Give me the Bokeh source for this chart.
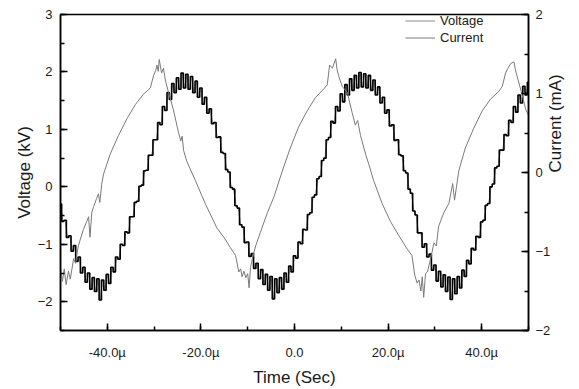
import math
import numpy as np
from bokeh.plotting import figure
from bokeh.models import (Range1d, LinearAxis, SingleIntervalTicker,
                          CustomJSTickFormatter, Legend, LegendItem)
from bokeh.embed import file_html
from bokeh.resources import INLINE

# ---- data ----
# voltage sampled every 0.5 us from -50 us to 50 us (kV)
voltage_kv = [
    -0.30, -0.60, -0.58, -0.88, -0.85, -1.12, -1.02, -1.30, -1.22, -1.50,
    -1.40, -1.66, -1.50, -1.78, -1.58, -1.82, -1.60, -1.97, -1.62, -1.80,
    -1.52, -1.68, -1.40, -1.48, -1.22, -1.26, -1.00, -1.02, -0.78, -0.80,
    -0.52, -0.52, -0.27, -0.25, 0.01, 0.03, 0.28, 0.29, 0.55, 0.55,
    0.82, 0.82, 1.12, 1.08, 1.40, 1.33, 1.64, 1.52, 1.80, 1.64,
    1.90, 1.70, 1.98, 1.72, 1.96, 1.70, 1.92, 1.64, 1.84, 1.56,
    1.72, 1.44, 1.56, 1.28, 1.36, 1.10, 1.12, 0.86, 0.87, 0.60,
    0.58, 0.30, 0.26, -0.01, -0.04, -0.33, -0.37, -0.66, -0.70, -0.97,
    -0.96, -1.21, -1.16, -1.42, -1.33, -1.60, -1.44, -1.70, -1.52, -1.80,
    -1.56, -1.95, -1.60, -1.84, -1.58, -1.78, -1.50, -1.66, -1.38, -1.48,
    -1.20, -1.24, -0.96, -0.99, -0.74, -0.75, -0.48, -0.45, -0.18, -0.14,
    0.14, 0.18, 0.46, 0.50, 0.82, 0.86, 1.14, 1.11, 1.40, 1.32,
    1.62, 1.48, 1.78, 1.60, 1.88, 1.68, 1.94, 1.72, 1.99, 1.74,
    1.97, 1.72, 1.94, 1.68, 1.86, 1.60, 1.74, 1.46, 1.56, 1.28,
    1.34, 1.06, 1.08, 0.81, 0.82, 0.56, 0.54, 0.28, 0.24, -0.04,
    -0.11, -0.42, -0.49, -0.80, -0.80, -1.05, -0.99, -1.22, -1.17, -1.45,
    -1.36, -1.64, -1.47, -1.74, -1.53, -1.82, -1.57, -1.96, -1.60, -1.86,
    -1.56, -1.76, -1.45, -1.56, -1.28, -1.34, -1.07, -1.10, -0.86, -0.88,
    -0.61, -0.58, -0.32, -0.29, 0.00, 0.05, 0.33, 0.36, 0.64, 0.64,
    0.91, 0.89, 1.16, 1.12, 1.40, 1.30, 1.60, 1.46, 1.75, 1.60,
    1.82,
]
t_volt_us = np.linspace(-50.0, 50.0, len(voltage_kv))

# current trace (us, mA)
t_cur_us = [
    -50.0, -49.6, -49.2, -48.8, -48.3, -47.9, -47.2, -46.8, -46.2, -45.1,
    -44.4, -44.0, -43.7, -43.3, -42.9, -42.3, -41.9, -41.6, -41.2, -40.8,
    -39.4, -37.6, -35.8, -34.0, -32.3, -30.8, -30.1, -29.6, -29.4, -29.1,
    -28.9, -28.4, -28.0, -27.6, -26.9, -25.9, -24.8, -24.3, -24.0, -23.7,
    -23.0, -21.2, -19.1, -16.6, -15.1, -13.7, -12.6, -11.9, -11.5, -11.2,
    -10.8, -10.4, -10.0, -9.7, -9.4, -9.0, -8.3, -7.3, -5.8, -4.4,
    -2.6, -0.9, 0.9, 2.7, 4.5, 6.3, 7.0, 7.5, 8.1, 8.8,
    9.1, 9.5, 10.2, 11.3, 12.3, 13.0, 13.5, 14.1, 15.2, 15.9,
    16.9, 18.7, 20.5, 22.3, 24.1, 25.1, 25.7, 26.2, 26.6, 27.0,
    27.3, 27.6, 28.0, 28.4, 29.1, 29.8, 30.3, 30.8, 31.9, 33.0,
    33.8, 34.2, 35.1, 36.5, 38.3, 40.1, 41.9, 43.7, 44.4, 45.1,
    45.6, 46.2, 46.9, 47.2, 47.6, 48.7, 49.4, 50.0,
]
current_ma = [
    -1.20, -1.38, -1.22, -1.42, -1.25, -1.35, -1.09, -1.15, -0.93, -0.72,
    -0.62, -0.56, -0.82, -0.50, -0.43, -0.33, -0.27, -0.38, -0.15, -0.02,
    0.23, 0.47, 0.68, 0.86, 0.99, 1.07, 1.23, 1.30, 1.36, 1.28,
    1.43, 1.26, 1.32, 1.17, 1.01, 0.80, 0.51, 0.40, 0.46, 0.28,
    0.14, -0.10, -0.39, -0.70, -0.82, -0.95, -1.05, -1.26, -1.22, -1.32,
    -1.25, -1.33, -1.28, -1.46, -1.20, -1.09, -0.93, -0.76, -0.51, -0.31,
    0.02, 0.31, 0.58, 0.78, 0.95, 1.06, 1.11, 1.36, 1.32, 1.44,
    1.30, 1.21, 1.09, 1.01, 0.76, 0.60, 0.66, 0.47, 0.23, 0.10,
    -0.10, -0.39, -0.62, -0.80, -0.97, -1.05, -1.30, -1.40, -1.36, -1.50,
    -1.32, -1.58, -1.28, -1.26, -1.09, -0.89, -0.93, -0.68, -0.51, -0.39,
    -0.14, -0.35, 0.02, 0.31, 0.56, 0.78, 0.93, 1.03, 1.09, 1.26,
    1.32, 1.38, 1.40, 1.30, 1.21, 0.97, 0.80, 0.72,
]

series_labels = ["Voltage", "Current"]
x_label = "Time (Sec)"
y_left_label = "Voltage (kV)"
y_right_label = "Current (mA)"

FONT = "Liberation Sans"
TXT = "#1a1a1a"

p = figure(width=579, height=389, output_backend="svg", toolbar_location=None,
           x_range=Range1d(-50, 50), y_range=Range1d(-2.5, 3),
           min_border_left=60, min_border_right=51,
           min_border_top=14, min_border_bottom=51)
p.extra_y_ranges = {"cur": Range1d(-2, 2)}
p.xgrid.visible = False
p.ygrid.visible = False
p.outline_line_color = "black"
p.outline_line_width = 1.5
p.background_fill_color = "white"
p.border_fill_color = "white"

# thin grey voltage stroke underneath (gives the grey fringe and the legend swatch)
lv = p.line(t_volt_us, voltage_kv, line_color="#8a8a8a", line_width=1)
rv = p.step(t_volt_us, voltage_kv, mode="center", line_color="black", line_width=1.6)
rc = p.line(t_cur_us, current_ma, y_range_name="cur", line_color="#7a7a7a", line_width=1)

p.xaxis.ticker = SingleIntervalTicker(interval=20, num_minor_ticks=2)
p.xaxis.formatter = CustomJSTickFormatter(
    code="return Math.abs(tick) < 1e-9 ? '0.0' : tick.toFixed(1) + 'µ';")
p.yaxis.ticker = SingleIntervalTicker(interval=1, num_minor_ticks=2)
p.xaxis.axis_label = x_label
p.yaxis.axis_label = y_left_label

ra = LinearAxis(y_range_name="cur",
                ticker=SingleIntervalTicker(interval=1, num_minor_ticks=2),
                axis_label=y_right_label)
p.add_layout(ra, "right")

for ax in [p.xaxis[0], p.yaxis[0], ra]:
    ax.axis_line_color = "black"
    ax.axis_line_width = 1.5
    ax.major_tick_in = 7
    ax.major_tick_out = 0
    ax.minor_tick_in = 4
    ax.minor_tick_out = 0
    ax.major_tick_line_width = 1.5
    ax.minor_tick_line_width = 1.5
    ax.major_tick_line_color = "black"
    ax.minor_tick_line_color = "black"
    ax.major_label_text_font = FONT
    ax.major_label_text_font_size = "13px"
    ax.major_label_text_color = TXT
    ax.axis_label_text_font = FONT
    ax.axis_label_text_font_size = "17px"
    ax.axis_label_text_font_style = "normal"
    ax.axis_label_text_color = TXT

p.xaxis[0].major_label_standoff = 14
p.xaxis[0].axis_label_standoff = 5
p.yaxis[0].major_label_standoff = 8
p.yaxis[0].axis_label_standoff = 1
ra.major_label_standoff = 7
ra.axis_label_standoff = 2
ra.axis_label_orientation = math.pi / 2

legend = Legend(items=[LegendItem(label=series_labels[0], renderers=[lv]),
                       LegendItem(label=series_labels[1], renderers=[rc])],
                location=(345, 284.5))
legend.background_fill_alpha = 0
legend.border_line_alpha = 0
legend.label_text_font = FONT
legend.label_text_font_size = "13px"
legend.label_text_color = TXT
legend.glyph_width = 30
legend.glyph_height = 17
legend.label_height = 17
legend.spacing = 0
legend.padding = 0
legend.margin = 0
legend.label_standoff = 5
p.add_layout(legend, "center")

open("out.html", "w").write(file_html(p, INLINE))
